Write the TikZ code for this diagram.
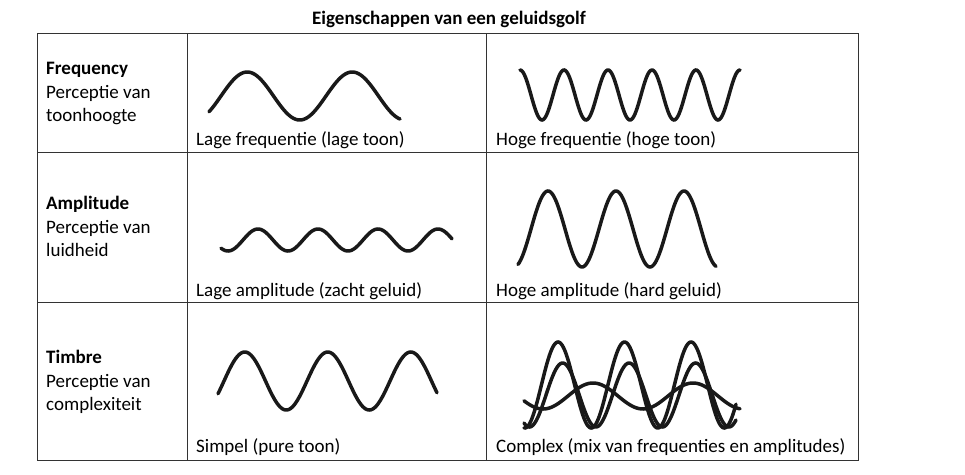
\documentclass[tikz,border=0pt]{standalone}
\usepackage{fontspec}
\setmainfont{Carlito}
\begin{document}
\begin{tikzpicture}[x=1pt,y=-1pt,
  grid/.style={draw=black!80,line width=0.8pt},
  wave/.style={line width=3.5pt,line cap=round,black!90},
  lbl/.style={anchor=west,inner sep=0pt,font=\fontsize{19}{23}\selectfont},
  head/.style={anchor=north west,inner sep=0pt,align=left,font=\fontsize{19}{23.5}\selectfont}]
\useasboundingbox (0,0) rectangle (965,474);
\node[inner sep=0pt,font=\bfseries\fontsize{19}{23}\selectfont] (title) at (449,19) {Eigenschappen van een geluidsgolf};
\draw[grid] (37,33) rectangle (858,460);
\draw[grid] (187,33) -- (187,460) (486,33) -- (486,460);
\draw[grid] (37,152) -- (858,152) (37,302) -- (858,302);
\node[head] (h1) at (46,62) {\textbf{Frequency}\\Perceptie van\\toonhoogte};
\node[head] (h2) at (46,196) {\textbf{Amplitude}\\Perceptie van\\luidheid};
\node[head] (h3) at (46,350) {\textbf{Timbre}\\Perceptie van\\complexiteit};
\node[lbl] (c1) at (196,140) {Lage frequentie (lage toon)};
\node[lbl] (c2) at (496,140) {Hoge frequentie (hoge toon)};
\node[lbl] (c3) at (196,291) {Lage amplitude (zacht geluid)};
\node[lbl] (c4) at (496,291) {Hoge amplitude (hard geluid)};
\node[lbl] (c5) at (196,447) {Simpel (pure toon)};
\node[lbl] (c6) at (496,447) {Complex (mix van frequenties en amplitudes)};
% low frequency
\draw[wave] plot[domain=209:400,samples=120] (\x,{96-24*sin((\x-221)/105*360)});
% high frequency
\draw[wave] plot[domain=520:740,samples=200] (\x,{95-25*cos((\x-520)/44*360)});
% low amplitude
\draw[wave] plot[domain=221:452,samples=160] (\x,{240-11*sin((\x-243)/60*360)});
% high amplitude
\draw[wave] plot[domain=518:716,samples=160] (\x,{229-38*sin((\x-531)/68*360)});
% simple
\draw[wave] plot[domain=218:437,samples=160] (\x,{381-29*sin((\x-224)/83*360)});
% complex
\draw[wave] plot[domain=524:736,samples=200] (\x,{385-43*sin((\x-541.4)/66.5*360)});
\draw[wave] plot[domain=524:736,samples=200] (\x,{395-32*sin((\x-546)/66.5*360)});
\draw[wave] plot[domain=524:740,samples=160] (\x,{396-13*sin((\x-568)/100*360)});
\end{tikzpicture}
\end{document}
